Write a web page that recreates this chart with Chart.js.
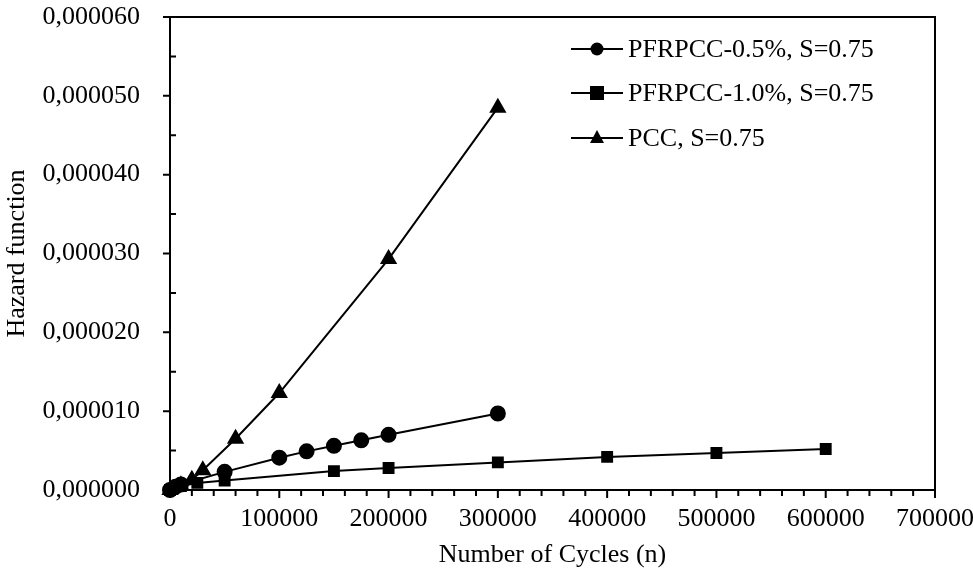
<!DOCTYPE html><html><head><script src="https://cdn.jsdelivr.net/npm/chart.js"></script>
<style>body{margin:0;background:#fff}#w{width:973px;height:571px}</style></head><body><div id="w"><canvas id="c"></canvas></div>
<script>
const labels=["PFRPCC-0.5%, S=0.75","PFRPCC-1.0%, S=0.75","PCC, S=0.75"];
const xA=[0,5000,10000,50000,100000,125000,150000,175000,200000,300000];
const yA=[0,0.4e-6,0.7e-6,2.3e-6,4.1e-6,4.9e-6,5.6e-6,6.3e-6,7.0e-6,9.7e-6];
const xB=[0,10000,25000,50000,150000,200000,300000,400000,500000,600000];
const yB=[0,0.5e-6,0.9e-6,1.2e-6,2.4e-6,2.8e-6,3.5e-6,4.2e-6,4.7e-6,5.2e-6];
const xC=[0,10000,20000,30000,60000,100000,200000,300000];
const yC=[0,0.6e-6,1.3e-6,2.5e-6,6.5e-6,12.3e-6,29.3e-6,48.5e-6];
const styles=['circle','rect','triangle'];
const mk=(x,y)=>x.map((v,i)=>({x:v,y:y[i]}));
const ds=[[xA,yA],[xB,yB],[xC,yC]].map((d,i)=>({label:labels[i],data:mk(d[0],d[1]),showLine:true,clip:false,borderColor:'#000',backgroundColor:'#000',borderWidth:2,pointStyle:styles[i],pointRadius:i==2?8:7,tension:0}));
const F='Liberation Serif',FS=26;
const leg={id:'leg',afterDraw(c){const x=c.ctx,a=c.chartArea,sx=c.scales.x,sy=c.scales.y;x.save();x.strokeStyle='#000';x.fillStyle='#000';x.lineWidth=2;
x.strokeRect(a.left,a.top,a.right-a.left,a.bottom-a.top);
x.beginPath();for(let v=0;v<=700000;v+=20000){const px=sx.getPixelForValue(v);x.moveTo(px,a.bottom);x.lineTo(px,a.bottom+(v%100000?6:8));}
for(let v=0;v<=60e-6+1e-12;v+=5e-6){const py=sy.getPixelForValue(v);const m=Math.round(v/5e-6)%2;x.moveTo(a.left-(m?0:7),py);x.lineTo(a.left+(m?6:0),py);}x.stroke();
x.font=FS+'px '+F;x.lineWidth=2;
ds.forEach((d,i)=>{const y=a.top+[32,76,121][i],lx=a.left+401;x.beginPath();x.moveTo(lx,y);x.lineTo(lx+52,y);x.stroke();
const cx=lx+26;x.beginPath();if(i==0){x.arc(cx,y,6.5,0,7);}else if(i==1){x.rect(cx-7,y-7,14,14);}else{x.moveTo(cx,y-8);x.lineTo(cx+7,y+5);x.lineTo(cx-7,y+5);x.closePath();}x.fill();
x.textBaseline='middle';x.fillText(d.label,lx+57,y+1);});x.restore();}};
new Chart(document.getElementById('c'),{type:'scatter',data:{datasets:ds},plugins:[leg],
options:{responsive:true,maintainAspectRatio:false,animation:false,layout:{padding:{left:0,right:38,top:17,bottom:0}},
plugins:{legend:{display:false},tooltip:{enabled:false}},
scales:{x:{min:0,max:700000,afterFit:s=>{s.height=81;s.paddingRight=0;s.paddingLeft=0},ticks:{stepSize:100000,padding:6,font:{family:F,size:FS},color:'#000',maxRotation:0,callback:v=>String(v)},grid:{display:false},border:{display:false},
title:{display:true,text:'Number of Cycles (n)',font:{family:F,size:FS},color:'#000',padding:0}},
y:{min:0,max:60e-6,afterFit:s=>{s.width=170;s.paddingTop=0;s.paddingBottom=0},ticks:{stepSize:10e-6,padding:22,font:{family:F,size:FS},color:'#000',callback:v=>v.toFixed(6).replace('.',',')},grid:{display:false},border:{display:false},
title:{display:true,text:'Hazard function',font:{family:F,size:FS},color:'#000',padding:2}}}}});
</script></body></html>
